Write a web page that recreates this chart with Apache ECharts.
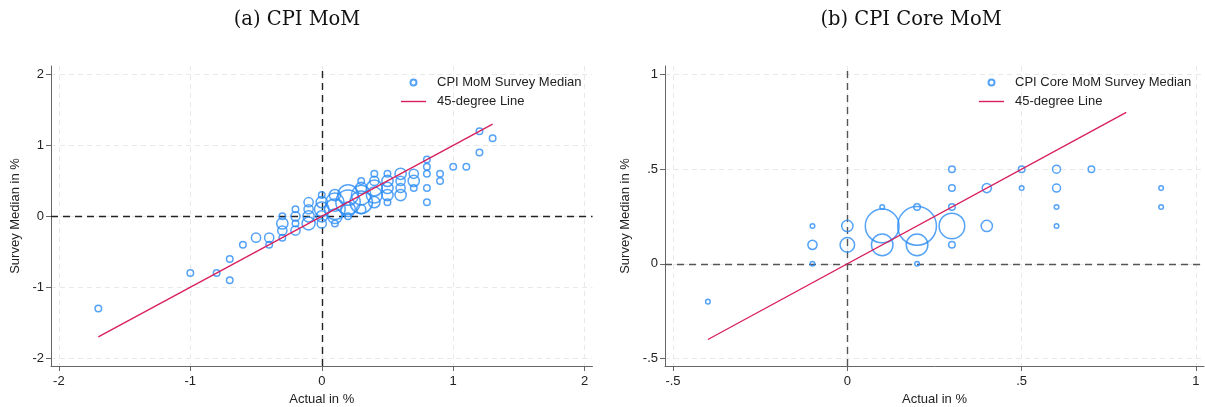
<!DOCTYPE html>
<html>
<head>
<meta charset="utf-8">
<script src="https://cdn.jsdelivr.net/npm/echarts@6/dist/echarts.min.js"></script>
<style>
html,body{margin:0;padding:0;background:#fff;}
#chart{width:1205px;height:407px;}
</style>
</head>
<body>
<div id="chart"></div>
<script>
// ---------- Data: panel (a) CPI MoM ----------
const leftActual = [-1.7,-1.0,-0.8,-0.7,-0.7,-0.6,-0.5,-0.4,-0.4,-0.3,-0.3,-0.3,-0.3,-0.2,-0.2,-0.2,-0.2,-0.1,-0.1,-0.1,-0.1,0.0,0.0,0.0,0.0,0.0,0.1,0.1,0.1,0.1,0.1,0.2,0.2,0.2,0.2,0.3,0.3,0.3,0.3,0.3,0.4,0.4,0.4,0.4,0.4,0.5,0.5,0.5,0.5,0.5,0.6,0.6,0.6,0.6,0.7,0.7,0.7,0.8,0.8,0.8,0.8,0.8,0.9,0.9,1.0,1.1,1.2,1.2,1.3];
const leftMedian = [-1.3,-0.8,-0.8,-0.6,-0.9,-0.4,-0.3,-0.3,-0.4,0.0,-0.1,-0.2,-0.3,0.1,0.0,-0.1,-0.2,0.2,0.1,0.0,-0.1,0.3,0.2,0.1,0.0,-0.1,0.3,0.2,0.1,0.0,-0.1,0.3,0.2,0.1,0.0,0.5,0.4,0.3,0.2,0.1,0.6,0.5,0.4,0.3,0.2,0.6,0.5,0.4,0.3,0.2,0.6,0.5,0.4,0.3,0.6,0.5,0.4,0.8,0.7,0.6,0.4,0.2,0.6,0.5,0.7,0.7,1.2,0.9,1.1];
const leftCount  = [1,1,1,1,1,1,2,2,1,1,3,2,1,1,2,1,2,2,2,3,4,1,3,5,3,2,3,8,10,5,1,10,14,5,1,1,3,9,12,2,1,2,6,6,3,1,3,3,3,1,3,2,2,3,2,3,1,1,1,1,1,1,1,1,1,1,1,1,1];
const leftLineX  = [-1.7, 1.3];
const leftTicks  = [-2,-1,0,1,2];

// ---------- Data: panel (b) CPI Core MoM ----------
const rightActual = [-0.4,-0.1,-0.1,-0.1,0.0,0.0,0.1,0.1,0.1,0.2,0.2,0.2,0.2,0.3,0.3,0.3,0.3,0.3,0.4,0.4,0.5,0.5,0.6,0.6,0.6,0.6,0.7,0.9,0.9];
const rightMedian = [-0.2,0.2,0.1,0.0,0.2,0.1,0.3,0.2,0.1,0.3,0.2,0.1,0.0,0.5,0.4,0.3,0.2,0.1,0.4,0.2,0.5,0.4,0.5,0.4,0.3,0.2,0.5,0.4,0.3];
const rightCount  = [1,1,4,1,6,10,1,54,22,2,71,22,1,2,2,2,31,2,4,6,2,1,3,3,1,1,2,1,1];
const rightLineX  = [-0.4, 0.8];
const rightTicks  = [-0.5,0,0.5,1];

const titles = ['(a) CPI MoM', '(b) CPI Core MoM'];
const scatterNames = ['CPI MoM Survey Median', 'CPI Core MoM Survey Median'];
const lineName = '45-degree Line';
const xName = 'Actual in %';
const yName = 'Survey Median in %';

// ---------- styles ----------
const BLUE = '#2b8cf5';
const RED = '#d81e5b';
const SANS = '"Liberation Sans", Arial, sans-serif';
const SERIF = '"DejaVu Serif", "Liberation Serif", serif';
const LINE_ICON = 'path://M0 0H25V1.4H0Z';

function stataFmt(v){
  if (v === 0) return '0';
  const s = String(Math.abs(v)).replace(/^0\./, '.');
  return (v < 0 ? '-' : '') + s;
}

function makeAxis(gridIndex, min, max, ticks, name, isY, nameGap){
  return {
    type: 'value', gridIndex, min, max,
    name, nameLocation: 'middle', nameGap,
    nameTextStyle: {fontFamily: SANS, fontSize: 13, color: '#222'},
    axisLine: {show: true, onZero: false, lineStyle: {color: '#666', width: 1}},
    axisTick: {show: true, length: 5, inside: false, customValues: ticks, lineStyle: {color: '#666'}},
    axisLabel: {show: true, customValues: ticks, formatter: stataFmt, fontFamily: SANS, fontSize: 13, color: '#222', margin: isY ? 7 : 9},
    splitLine: {show: true, lineStyle: {color: '#e9e9e9', width: 1, type: [5,4]}}
  };
}

function makeLegend(left, scatterName){
  return {
    left, top: 75, orient: 'vertical', padding: 0,
    itemWidth: 25, itemHeight: 6, itemGap: 4,
    data: [
      {name: scatterName, icon: 'circle'},
      {name: lineName, icon: LINE_ICON, itemStyle: {color: RED, borderWidth: 0}}
    ],
    textStyle: {fontFamily: SANS, fontSize: 13, color: '#222', lineHeight: 15, padding: [0,0,0,6]},
    selectedMode: false
  };
}

const chart = echarts.init(document.getElementById('chart'), null, {renderer: 'canvas'});

const option = {
  animation: false,
  backgroundColor: '#fff',
  title: [
    {text: titles[0], left: 292, top: 5, textAlign: 'center', textStyle: {fontFamily: SERIF, fontSize: 19.5, fontWeight: 'normal', color: '#111'}},
    {text: titles[1], left: 906, top: 5, textAlign: 'center', textStyle: {fontFamily: SERIF, fontSize: 19.5, fontWeight: 'normal', color: '#111'}}
  ],
  grid: [
    {left: 51, top: 66, width: 541.5, height: 300, outerBoundsMode: 'none', containLabel: false},
    {left: 665, top: 66, width: 539, height: 300, outerBoundsMode: 'none', containLabel: false}
  ],
  xAxis: [
    makeAxis(0, -2.06, 2.06, leftTicks, xName, false, 26),
    makeAxis(1, -0.523, 1.023, rightTicks, xName, false, 26)
  ],
  yAxis: [
    makeAxis(0, -2.11, 2.12, leftTicks, yName, true, 29),
    makeAxis(1, -0.54, 1.045, rightTicks, yName, true, 33)
  ],
  legend: [makeLegend(401, scatterNames[0]), makeLegend(979, scatterNames[1])],
  series: [
    {
      name: scatterNames[0], type: 'scatter', xAxisIndex: 0, yAxisIndex: 0,
      data: leftActual.map((x, i) => [x, leftMedian[i], leftCount[i]]),
      symbol: 'circle',
      symbolSize: v => 6.5 * Math.sqrt(v[2]),
      itemStyle: {color: 'rgba(0,0,0,0)', borderColor: BLUE, borderWidth: 1.5},
      z: 3,
      markLine: {
        silent: true, symbol: 'none', label: {show: false},
        lineStyle: {color: '#222', width: 1.4, type: [7,5]},
        data: [{xAxis: 0}, {yAxis: 0}], z: 2
      }
    },
    {
      name: lineName, type: 'line', xAxisIndex: 0, yAxisIndex: 0,
      data: leftLineX.map(v => [v, v]),
      symbol: 'none', lineStyle: {color: RED, width: 1.3}, itemStyle: {color: RED}, z: 4
    },
    {
      name: scatterNames[1], type: 'scatter', xAxisIndex: 1, yAxisIndex: 1,
      data: rightActual.map((x, i) => [x, rightMedian[i], rightCount[i]]),
      symbol: 'circle',
      symbolSize: v => 4.6 * Math.sqrt(v[2]),
      itemStyle: {color: 'rgba(0,0,0,0)', borderColor: BLUE, borderWidth: 1.5},
      z: 3,
      markLine: {
        silent: true, symbol: 'none', label: {show: false},
        lineStyle: {color: '#555', width: 1.4, type: [7,5]},
        data: [{xAxis: 0}, {yAxis: 0}], z: 2
      }
    },
    {
      name: lineName, type: 'line', xAxisIndex: 1, yAxisIndex: 1,
      data: rightLineX.map(v => [v, v]),
      symbol: 'none', lineStyle: {color: RED, width: 1.3}, itemStyle: {color: RED}, z: 4
    }
  ]
};
chart.setOption(option);
</script>
</body>
</html>
